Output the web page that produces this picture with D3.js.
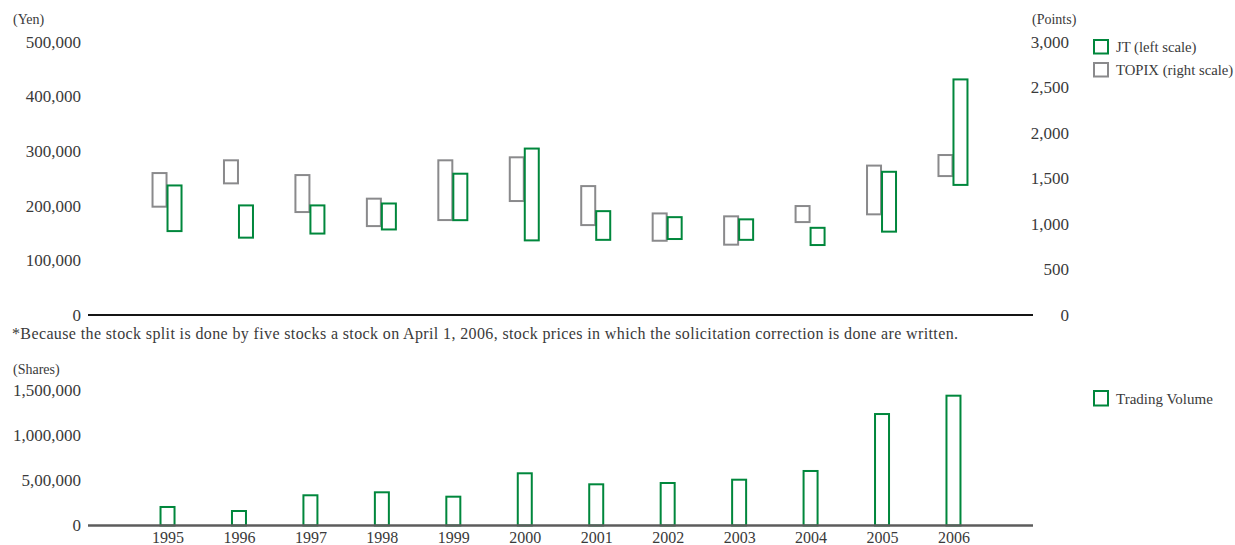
<!DOCTYPE html>
<html>
<head>
<meta charset="utf-8">
<script src="https://cdn.jsdelivr.net/npm/d3@7"></script>
<style>
    body { margin: 0; background: #fff; }
    svg text { font-family: "Liberation Serif", "DejaVu Serif", serif; fill: #3a3a3a; }
</style>
</head>
<body>
<svg id="chart" width="1235" height="545"></svg>
<script>
// values
const years = [1995, 1996, 1997, 1998, 1999, 2000, 2001, 2002, 2003, 2004, 2005, 2006];
const jtHigh = [237000, 200500, 200500, 204000, 258500, 304500, 190000, 179000, 175000, 159500, 262000, 431000];
const jtLow = [153500, 141500, 149000, 156500, 173500, 136500, 137500, 139000, 137500, 128000, 152500, 238000];
const topixHigh = [1558, 1698, 1536, 1277, 1698, 1731, 1415, 1115, 1083, 1196, 1640, 1756];
const topixLow = [1189, 1445, 1130, 976, 1042, 1251, 987, 815, 772, 1020, 1105, 1525];
const volume = [205000, 160500, 334500, 367500, 319000, 578000, 456000, 470500, 507000, 603500, 1234000, 1437000];

const yenTicks = [0, 100000, 200000, 300000, 400000, 500000];
const pointTicks = [0, 500, 1000, 1500, 2000, 2500, 3000];
const shareTicks = [0, 500000, 1000000, 1500000];
const shareTickLabels = ['0', '5,00,000', '1,000,000', '1,500,000'];

const legendTop = ['JT (left scale)', 'TOPIX (right scale)'];
const legendBottom = ['Trading Volume'];
const footnote = '*Because the stock split is done by five stocks a stock on April 1, 2006, stock prices in which the solicitation correction is done are written.';

const green = '#00873c';
const grey = '#8a8a8c';

let svg = d3.select('#chart');

let config = {
    left: 88,
    right: 1033,
    top: { zero: 315, max: 41.7 },
    bot: { zero: 525.5, max: 390 }
};

let xScale = d3.scalePoint()
    .domain(years)
    .range([config.left, config.right])
    .padding(1.113);

let yenScale = d3.scaleLinear().domain([0, 500000]).range([config.top.zero, config.top.max]);
let pointScale = d3.scaleLinear().domain([0, 3000]).range([config.top.zero, config.top.max]);
let volScale = d3.scaleLinear().domain([0, 1500000]).range([config.bot.zero, config.bot.max]);

function cleanAxis(g, size) {
    g.select('.domain').remove();
    g.selectAll('text')
        .style('font-size', size + 'px')
        .style('font-family', '"Liberation Serif", serif')
        .attr('fill', '#3a3a3a');
}

// ---- top chart: price ranges
svg.append('g')
    .attr('transform', `translate(${config.left},0)`)
    .call(d3.axisLeft(yenScale).tickValues(yenTicks).tickSize(0).tickPadding(7).tickFormat(d3.format(',')))
    .call(g => cleanAxis(g, 17));

svg.append('g')
    .attr('transform', 'translate(1069,0)')
    .call(d3.axisLeft(pointScale).tickValues(pointTicks).tickSize(0).tickPadding(0).tickFormat(d3.format(',')))
    .call(g => cleanAxis(g, 17));

svg.append('text').attr('x', 13).attr('y', 24).style('font-size', '14px').text('(Yen)');
svg.append('text').attr('x', 1032).attr('y', 24).style('font-size', '14px').text('(Points)');

svg.append('g').selectAll('rect')
    .data(years)
    .join('rect')
    .attr('x', (d) => xScale(d) - 15)
    .attr('y', (d, i) => pointScale(topixHigh[i]))
    .attr('width', 14)
    .attr('height', (d, i) => pointScale(topixLow[i]) - pointScale(topixHigh[i]))
    .attr('fill', 'none')
    .attr('stroke', grey)
    .attr('stroke-width', 2);

svg.append('g').selectAll('rect')
    .data(years)
    .join('rect')
    .attr('x', (d) => xScale(d))
    .attr('y', (d, i) => yenScale(jtHigh[i]))
    .attr('width', 14)
    .attr('height', (d, i) => yenScale(jtLow[i]) - yenScale(jtHigh[i]))
    .attr('fill', 'none')
    .attr('stroke', green)
    .attr('stroke-width', 2);

svg.append('line')
    .attr('x1', config.left).attr('x2', config.right)
    .attr('y1', config.top.zero).attr('y2', config.top.zero)
    .attr('stroke', '#151515')
    .attr('stroke-width', 2);

let legTop = svg.append('g').selectAll('g')
    .data(legendTop)
    .join('g')
    .attr('transform', (d, i) => `translate(1094,${40 + i * 23})`);
legTop.append('rect')
    .attr('width', 14).attr('height', 13.5)
    .attr('fill', 'none')
    .attr('stroke', (d, i) => i == 0 ? green : grey)
    .attr('stroke-width', 2);
legTop.append('text')
    .attr('x', 22).attr('y', 12)
    .style('font-size', '14.7px')
    .text(d => d);

// footnote
svg.append('text')
    .attr('x', 12).attr('y', 339)
    .attr('textLength', 946)
    .attr('lengthAdjust', 'spacing')
    .style('font-size', '16px')
    .text(footnote);

// ---- bottom chart: trading volume
svg.append('g')
    .attr('transform', `translate(${config.left},0)`)
    .call(d3.axisLeft(volScale).tickValues(shareTicks).tickSize(0).tickPadding(7)
        .tickFormat((d, i) => shareTickLabels[i]))
    .call(g => cleanAxis(g, 17));

svg.append('text').attr('x', 13).attr('y', 374).style('font-size', '14px').text('(Shares)');

svg.append('g').selectAll('rect')
    .data(years)
    .join('rect')
    .attr('x', (d) => xScale(d) - 7)
    .attr('y', (d, i) => volScale(volume[i]))
    .attr('width', 14)
    .attr('height', (d, i) => volScale(0) - volScale(volume[i]))
    .attr('fill', 'none')
    .attr('stroke', green)
    .attr('stroke-width', 2);

svg.append('line')
    .attr('x1', config.left).attr('x2', config.right)
    .attr('y1', config.bot.zero).attr('y2', config.bot.zero)
    .attr('stroke', '#5c5c5c')
    .attr('stroke-width', 2.5);

svg.append('g')
    .attr('transform', `translate(0,${config.bot.zero})`)
    .call(d3.axisBottom(xScale).tickSize(0).tickPadding(6))
    .call(g => cleanAxis(g, 16));

let legBot = svg.append('g').selectAll('g')
    .data(legendBottom)
    .join('g')
    .attr('transform', 'translate(1094,391)');
legBot.append('rect')
    .attr('width', 14).attr('height', 14.5)
    .attr('fill', 'none')
    .attr('stroke', green)
    .attr('stroke-width', 2);
legBot.append('text')
    .attr('x', 22).attr('y', 12.5)
    .style('font-size', '15px')
    .text(d => d);
</script>
</body>
</html>
